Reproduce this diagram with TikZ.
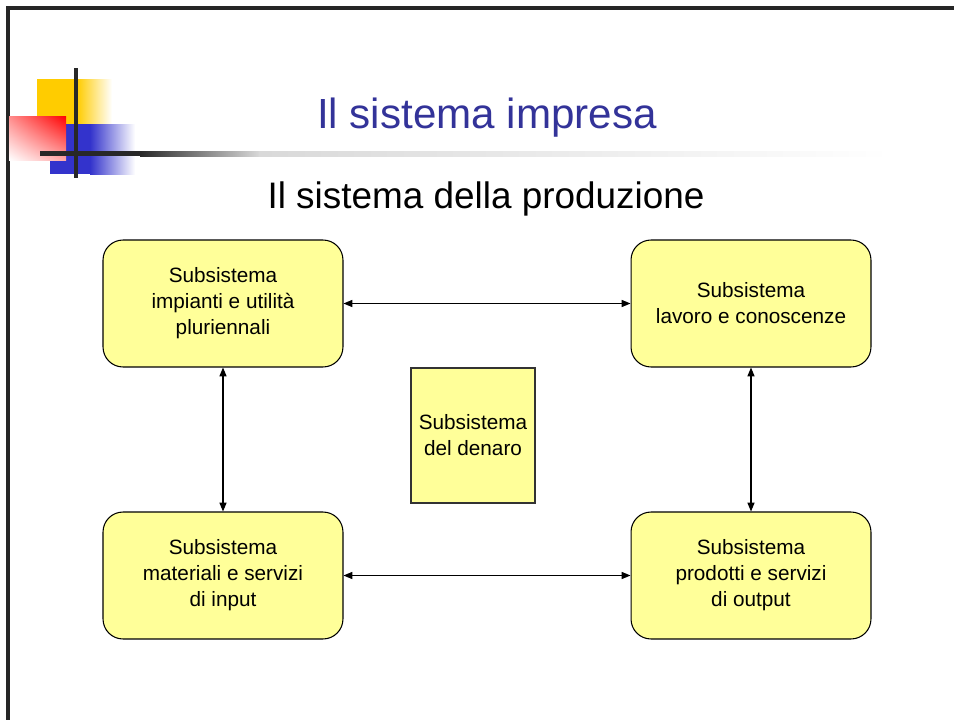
\documentclass[tikz,border=0pt]{standalone}
\usepackage{fontspec}
\setmainfont{Liberation Sans}
\usepackage{tikz}
\usetikzlibrary{arrows.meta,positioning,shadings}
\usepackage{xcolor}
\definecolor{titleblue}{RGB}{51,51,153}
\definecolor{boxyellow}{RGB}{255,255,153}
\definecolor{logoyellow}{RGB}{255,204,0}
\definecolor{logored}{RGB}{255,0,0}
\definecolor{logoblue}{RGB}{51,51,204}
\definecolor{barblack}{RGB}{40,40,40}

\begin{document}
\begin{tikzpicture}[x=0.02cm, y=-0.02cm,
    every node/.style={font=\fontsize{11.8}{14.8}\selectfont},
    subsys/.style={draw=black, line width=0.6pt, fill=boxyellow, rounded corners=0.4cm,
      minimum width=4.8cm, minimum height=2.54cm, align=center, inner sep=0pt},
    link/.style={{Triangle[length=5pt,width=4pt]}-{Triangle[length=5pt,width=4pt]}, line width=0.6pt}]
        \useasboundingbox (0,0) rectangle (954,720);
        % slide frame
        \draw[line width=1.8pt, black!85] (8,720) -- (8,8) -- (954,8);
        % logo
        \fill[logoyellow] (37,79) rectangle (77,124);
        \shade[left color=logoyellow, right color=white] (77,79) rectangle (112,124);
        \fill[logoblue] (50,124) rectangle (90,174);
        \shade[left color=logoblue, right color=white] (90,124) rectangle (135,174);
        \shade[upper right=logored, upper left=logored!45, lower right=logored!35, lower left=white] (9,116) rectangle (66,160);
        \fill[barblack] (74,68) rectangle (78,178);
        \fill[barblack] (40,151) rectangle (140,156);
        \shade[left color=barblack, right color=black!15] (140,151) rectangle (260,156);
        \shade[left color=black!15, right color=white] (259,151) rectangle (890,156);
        % titles
        \node[font=\fontsize{24}{28}\selectfont, text=titleblue] (title) at (487,118) {Il sistema impresa};
        \node[font=\fontsize{21}{25}\selectfont] (subtitle) at (486,199) {Il sistema della produzione};
        % subsystems
        \node[subsys] (impianti) at (223,303.5) {Subsistema\\impianti e utilità\\pluriennali};
        \node[subsys] (lavoro) at (751,303.5) {Subsistema\\lavoro e conoscenze};
        \node[subsys] (materiali) at (223,575.5) {Subsistema\\materiali e servizi\\di input};
        \node[subsys] (prodotti) at (751,575.5) {Subsistema\\prodotti e servizi\\di output};
        \node[draw=black!80, line width=0.6pt, fill=boxyellow, minimum width=2.48cm, minimum height=2.7cm,
          align=center, inner sep=0pt] (denaro) at (473,435.5) {Subsistema\\del denaro};
        % links
        \draw[link] (impianti) -- (lavoro);
        \draw[link] (materiali) -- (prodotti);
        \draw[link] (impianti) -- (materiali);
        \draw[link] (lavoro) -- (prodotti);
      \end{tikzpicture}
\end{document}
